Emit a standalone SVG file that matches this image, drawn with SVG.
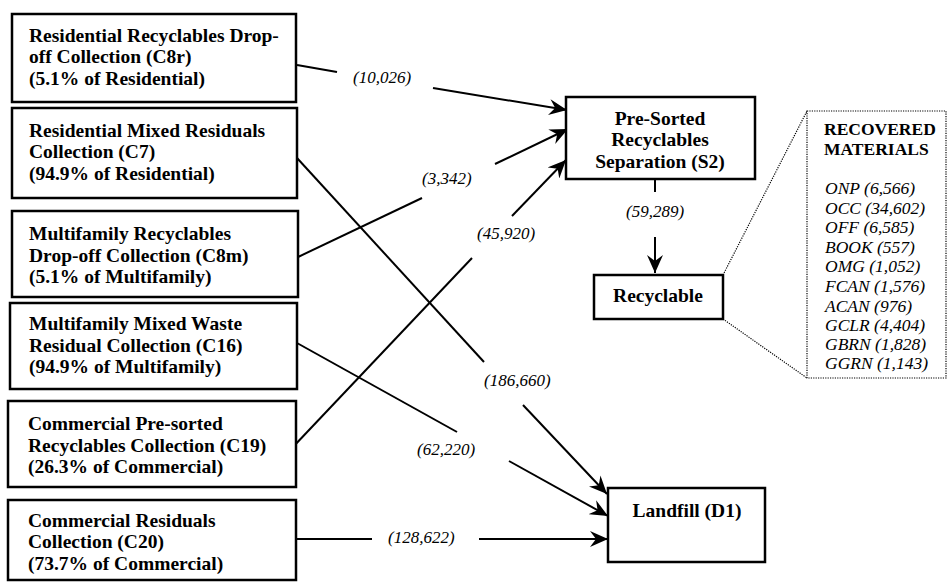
<svg xmlns="http://www.w3.org/2000/svg" width="949" height="584" viewBox="0 0 949 584">
<style>
.box{fill:#fff;stroke:#000;stroke-width:2.5}
.t{font-family:"Liberation Serif","Times New Roman",serif;font-weight:bold;font-size:19.5px;fill:#000}
.c{text-anchor:middle}
.lbl{font-family:"Liberation Serif","Times New Roman",serif;font-style:italic;font-size:17px;fill:#000}
.rm{font-family:"Liberation Serif","Times New Roman",serif;font-size:17.5px;fill:#000}
.ln{fill:none;stroke:#000;stroke-width:2}
.dot{fill:none;stroke:#000;stroke-width:1.2;stroke-dasharray:1.2 1.2}
</style>
<defs>
<marker id="ah" markerUnits="userSpaceOnUse" markerWidth="20" markerHeight="16" refX="18" refY="8" orient="auto">
<path d="M0,0 L18,8 L0,16 L6,8 Z" fill="#000"/>
</marker>
</defs>
<rect width="949" height="584" fill="#fff"/>

<g id="connectors">
<path class="ln" d="M297,65 L337,72"/>
<path class="ln" d="M433,88 L567,110" marker-end="url(#ah)"/>
<path class="ln" d="M297,158 L484,362"/>
<path class="ln" d="M523,405 L607,494" marker-end="url(#ah)"/>
<path class="ln" d="M298,257 L422,198"/>
<path class="ln" d="M495,164 L568,129" marker-end="url(#ah)"/>
<path class="ln" d="M297,343 L457,432"/>
<path class="ln" d="M509,461 L608,516" marker-end="url(#ah)"/>
<path class="ln" d="M292,448 L472,258"/>
<path class="ln" d="M512,216 L566,160" marker-end="url(#ah)"/>
<path class="ln" d="M296,539 L372,539"/>
<path class="ln" d="M479,539 L608,539" marker-end="url(#ah)"/>
<path class="ln" d="M655,180 L655,192"/>
<path class="ln" d="M655,237 L655,273" marker-end="url(#ah)"/>
<path class="dot" d="M723,275 L807,111"/>
<path class="dot" d="M723,319 L807,378"/>
<text class="lbl" x="353" y="83">(10,026)</text>
<text class="lbl" x="422" y="184">(3,342)</text>
<text class="lbl" x="477" y="239">(45,920)</text>
<text class="lbl" x="484" y="386">(186,660)</text>
<text class="lbl" x="417" y="455">(62,220)</text>
<text class="lbl" x="388" y="543">(128,622)</text>
<text class="lbl" x="626" y="217">(59,289)</text>
</g>

<g id="c8r">
<rect class="box" x="12" y="14" width="284" height="88"/>
<text class="t" x="29" y="42">Residential Recyclables Drop-</text>
<text class="t" x="29" y="63">off Collection (C8r)</text>
<text class="t" x="29" y="85">(5.1% of Residential)</text>
</g>
<g id="c7">
<rect class="box" x="12" y="108" width="285" height="90"/>
<text class="t" x="29" y="137">Residential Mixed Residuals</text>
<text class="t" x="29" y="158">Collection (C7)</text>
<text class="t" x="29" y="180">(94.9% of Residential)</text>
</g>
<g id="c8m">
<rect class="box" x="12" y="211" width="286" height="86"/>
<text class="t" x="29" y="240">Multifamily Recyclables</text>
<text class="t" x="29" y="262">Drop-off Collection (C8m)</text>
<text class="t" x="29" y="283">(5.1% of Multifamily)</text>
</g>
<g id="c16">
<rect class="box" x="10" y="303" width="287" height="86"/>
<text class="t" x="29" y="330">Multifamily Mixed Waste</text>
<text class="t" x="29" y="352">Residual Collection (C16)</text>
<text class="t" x="29" y="373">(94.9% of Multifamily)</text>
</g>
<g id="c19">
<rect class="box" x="8" y="401" width="288" height="86"/>
<text class="t" x="28" y="430">Commercial Pre-sorted</text>
<text class="t" x="28" y="452">Recyclables Collection (C19)</text>
<text class="t" x="28" y="473">(26.3% of Commercial)</text>
</g>
<g id="c20">
<rect class="box" x="8" y="500" width="288" height="80"/>
<text class="t" x="28" y="527">Commercial Residuals</text>
<text class="t" x="28" y="548">Collection (C20)</text>
<text class="t" x="28" y="570">(73.7% of Commercial)</text>
</g>
<g id="s2">
<rect class="box" x="566" y="97" width="189" height="82"/>
<text class="t c" x="660" y="125">Pre-Sorted</text>
<text class="t c" x="660" y="146">Recyclables</text>
<text class="t c" x="660" y="168">Separation (S2)</text>
</g>
<g id="recyclable">
<rect class="box" x="594" y="275" width="129" height="44"/>
<text class="t c" x="658" y="302">Recyclable</text>
</g>
<g id="landfill">
<rect class="box" x="608" y="488" width="157" height="74"/>
<text class="t c" x="687" y="517">Landfill (D1)</text>
</g>
<g id="recovered">
<rect class="dot" x="807" y="111" width="139" height="267"/>
<text class="rm" x="824" y="135" font-weight="bold">RECOVERED</text>
<text class="rm" x="824" y="155" font-weight="bold">MATERIALS</text>
<text class="rm" x="825" y="194" font-style="italic">ONP (6,566)</text>
<text class="rm" x="825" y="214" font-style="italic">OCC (34,602)</text>
<text class="rm" x="825" y="233" font-style="italic">OFF (6,585)</text>
<text class="rm" x="825" y="253" font-style="italic">BOOK (557)</text>
<text class="rm" x="825" y="272" font-style="italic">OMG (1,052)</text>
<text class="rm" x="825" y="292" font-style="italic">FCAN (1,576)</text>
<text class="rm" x="825" y="312" font-style="italic">ACAN (976)</text>
<text class="rm" x="825" y="331" font-style="italic">GCLR (4,404)</text>
<text class="rm" x="825" y="350" font-style="italic">GBRN (1,828)</text>
<text class="rm" x="825" y="369" font-style="italic">GGRN (1,143)</text>
</g>
</svg>
